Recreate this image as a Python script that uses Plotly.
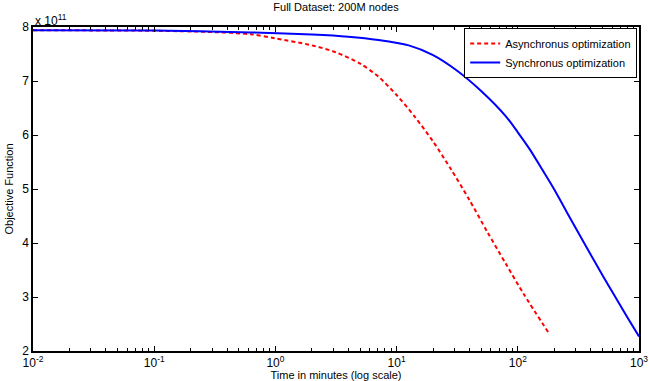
import plotly.graph_objects as go

# Objective function values in units of 1e11
async_time = [0.01, 0.1, 0.316, 0.631, 1.0, 2.0, 3.16, 5.01, 7.08, 10.0, 14.1, 20.0, 28.2, 39.8, 56.2, 79.4, 112.2, 184.0]
async_obj = [7.94, 7.93, 7.905, 7.865, 7.79, 7.66, 7.53, 7.32, 7.08, 6.74, 6.34, 5.88, 5.36, 4.80, 4.20, 3.62, 3.05, 2.30]

sync_time = [0.01, 0.1, 0.631, 2.0, 3.98, 7.08, 12.6, 20.0, 31.6, 50.1, 79.4, 100.0, 126.0, 158.0, 200.0, 251.0, 316.0, 398.0, 501.0, 631.0, 794.0, 1000.0]
sync_obj = [7.94, 7.935, 7.90, 7.86, 7.82, 7.76, 7.66, 7.48, 7.19, 6.81, 6.35, 6.05, 5.73, 5.37, 4.99, 4.59, 4.19, 3.79, 3.40, 3.02, 2.64, 2.27]

x_tickvals = [0.01, 0.1, 1, 10, 100, 1000]
x_ticktext = ["10<sup>-2</sup>", "10<sup>-1</sup>", "10<sup>0</sup>", "10<sup>1</sup>", "10<sup>2</sup>", "10<sup>3</sup>"]
y_tickvals = [2, 3, 4, 5, 6, 7, 8]

FONT = "Liberation Sans, Arial, Helvetica"

fig = go.Figure()
fig.add_trace(go.Scatter(x=async_time, y=async_obj, mode="lines", name="Asynchronus optimization",
                         line=dict(color="#ff0000", width=2, dash="4px,3px", shape="spline", smoothing=0.8)))
fig.add_trace(go.Scatter(x=sync_time, y=sync_obj, mode="lines", name="Synchronus optimization",
                         line=dict(color="#0000ff", width=2, shape="spline", smoothing=0.8)))

axis_common = dict(showline=True, linecolor="black", linewidth=1.5, mirror="ticks",
                   ticks="inside", ticklen=5, tickcolor="black", showgrid=False, zeroline=False,
                   automargin=False,
                   tickfont=dict(family=FONT, size=12, color="black"))

fig.update_xaxes(type="log", range=[-2, 3], tickvals=x_tickvals, ticktext=x_ticktext,
                 minor=dict(ticks="inside", ticklen=3, tickcolor="black", dtick="D1"),
                 title=dict(text="Time in minutes (log scale)", standoff=5,
                            font=dict(family=FONT, size=11, color="black")),
                 **axis_common)
fig.update_yaxes(range=[2, 8], tickvals=y_tickvals,
                 title=dict(text="Objective Function", standoff=6,
                            font=dict(family=FONT, size=11, color="black")),
                 **axis_common)

fig.add_annotation(text="x 10<sup>11</sup>", xref="paper", yref="paper", x=0, y=1,
                   xanchor="left", yanchor="bottom", showarrow=False, yshift=-3,
                   font=dict(family=FONT, size=12, color="black"))

fig.update_layout(
    width=649, height=381,
    margin=dict(l=33, r=10, t=27, b=30),
    paper_bgcolor="white", plot_bgcolor="white",
    title=dict(text="Full Dataset: 200M nodes", x=0.5, xref="paper", xanchor="center",
               y=1, yref="container", yanchor="top", pad=dict(t=3),
               font=dict(family=FONT, size=11, color="black")),
    legend=dict(x=0.997, y=0.997, xanchor="right", yanchor="top", bgcolor="white",
                bordercolor="black", borderwidth=1,
                font=dict(family=FONT, size=11, color="black"),
                tracegroupgap=0, itemwidth=30),
    showlegend=True,
)

fig.write_html("out.html", config={"displayModeBar": False},
               post_script="document.body.style.margin='0';")
